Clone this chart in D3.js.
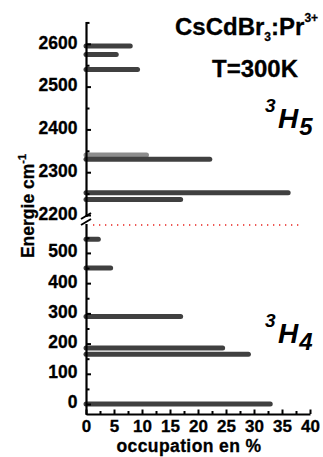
<!DOCTYPE html>
<html><head><meta charset="utf-8">
<script src="https://cdn.jsdelivr.net/npm/d3@7"></script>
<style>
html,body{margin:0;padding:0;background:#fff;}
svg{display:block;font-family:"Liberation Sans",Arial,sans-serif;}
</style></head>
<body>
<svg id="c" width="323" height="457"></svg>
<script>
// ---- data ----
const h5Energy = [2595, 2575, 2540, 2330, 2252, 2236];
const h5Occupation = [7.9, 5.4, 9.2, 22.1, 36.1, 16.9];
const h5LightEnergy = [2340];
const h5LightOccupation = [10.8];
const h4Energy = [545, 450, 290, 185, 165, 0];
const h4Occupation = [2.2, 4.4, 16.9, 24.4, 29.0, 32.9];
const upperTicks = [2200, 2300, 2400, 2500, 2600];
const lowerTicks = [0, 100, 200, 300, 400, 500];
const xTicks = [0, 5, 10, 15, 20, 25, 30, 35, 40];

const svg = d3.select("#c");
const x = d3.scaleLinear().domain([0, 40]).range([86, 310]);
const yU = d3.scaleLinear().domain([2193, 2651]).range([218, 22]);
const yL = d3.scaleLinear().domain([-33, 599]).range([414, 223]);
const axX = 86.5;

// bars
function bars(en, occ, ys, color) {
  svg.append("g").selectAll("line").data(en).join("line")
    .attr("x1", x(0)).attr("x2", (d, i) => x(occ[i]))
    .attr("y1", d => ys(d)).attr("y2", d => ys(d))
    .attr("stroke", color).attr("stroke-width", 5).attr("stroke-linecap", "round");
}
bars(h5LightEnergy, h5LightOccupation, yU, "#8c8c8c");
bars(h5Energy, h5Occupation, yU, "#404040");
bars(h4Energy, h4Occupation, yL, "#404040");

// red dotted separator
svg.append("line").attr("x1", 93).attr("x2", 300).attr("y1", 225).attr("y2", 225)
  .attr("stroke", "#e8231e").attr("stroke-width", 1.3).attr("stroke-dasharray", "1.3 4.7");

function styleAxis(g) {
  g.select(".domain").remove();
  g.selectAll(".tick line").attr("stroke", "#000").attr("stroke-width", 2);
  g.selectAll("text").attr("font-size", 17.5).attr("font-weight", "bold").attr("fill", "#000")
    .attr("font-family", "'Liberation Sans',Arial,sans-serif")
    .attr("stroke", "#000").attr("stroke-width", 0.3);
}
// y axes
const gU = svg.append("g").attr("transform", `translate(${axX},0)`)
  .call(d3.axisLeft(yU).tickValues(upperTicks).tickSizeInner(-4.5).tickSizeOuter(0).tickPadding(9).tickFormat(d3.format("d")));
styleAxis(gU);
gU.selectAll("text").attr("dy", "0.25em");
const gUm = svg.append("g").attr("transform", `translate(${axX},0)`)
  .call(d3.axisLeft(yU).tickValues([2250, 2350, 2450, 2550, 2650]).tickSizeInner(-3).tickSizeOuter(0).tickFormat(""));
styleAxis(gUm);
const gL = svg.append("g").attr("transform", `translate(${axX},0)`)
  .call(d3.axisLeft(yL).tickValues(lowerTicks).tickSizeInner(-4.5).tickSizeOuter(0).tickPadding(9).tickFormat(d3.format("d")));
styleAxis(gL);
gL.selectAll("text").attr("dy", "0.22em");
const gLm = svg.append("g").attr("transform", `translate(${axX},0)`)
  .call(d3.axisLeft(yL).tickValues([50, 150, 250, 350, 450, 550]).tickSizeInner(-3).tickSizeOuter(0).tickFormat(""));
styleAxis(gLm);
// y axis lines
svg.append("line").attr("x1", axX).attr("x2", axX).attr("y1", yU.range()[1]).attr("y2", 217)
  .attr("stroke", "#000").attr("stroke-width", 2.2);
svg.append("line").attr("x1", axX).attr("x2", axX).attr("y1", 224).attr("y2", 415)
  .attr("stroke", "#000").attr("stroke-width", 2.2);
// break marks
[0, 6].forEach(o => {
  svg.append("line").attr("x1", 81).attr("y1", 219 + o).attr("x2", 91).attr("y2", 213 + o)
    .attr("stroke", "#000").attr("stroke-width", 2);
});

// x axis
const gX = svg.append("g").attr("transform", "translate(0,414)")
  .call(d3.axisBottom(x).tickValues(xTicks).tickSizeInner(-4.5).tickSizeOuter(0).tickPadding(6));
gX.select(".domain").attr("stroke", "#000").attr("stroke-width", 2.2);
gX.selectAll(".tick line").attr("stroke", "#000").attr("stroke-width", 2);
gX.selectAll("text").attr("font-size", 17).attr("font-weight", "bold").attr("fill", "#000")
  .attr("font-family", "'Liberation Sans',Arial,sans-serif")
  .attr("stroke", "#000").attr("stroke-width", 0.3);
const gXm = svg.append("g").attr("transform", "translate(0,414)")
  .call(d3.axisBottom(x).tickValues(d3.range(2.5, 40, 5)).tickSizeInner(-3).tickSizeOuter(0).tickFormat(""));
gXm.select(".domain").remove();
gXm.selectAll(".tick line").attr("stroke", "#000").attr("stroke-width", 2);

// axis titles
svg.append("text").attr("x", 189).attr("y", 452).attr("text-anchor", "middle")
  .attr("font-size", 17.5).attr("font-weight", "bold").attr("letter-spacing", 0.4)
  .attr("stroke", "#000").attr("stroke-width", 0.3).text("occupation en %");
const yt = svg.append("text").attr("transform", "translate(34,206) rotate(-90)")
  .attr("text-anchor", "middle").attr("font-size", 17.5).attr("font-weight", "bold")
  .attr("stroke", "#000").attr("stroke-width", 0.3);
yt.append("tspan").text("Energie cm");
yt.append("tspan").attr("font-size", 11).attr("dy", -8).text("-1");

// annotations
const t1 = svg.append("text").attr("x", 175).attr("y", 35).attr("font-size", 24).attr("font-weight", "bold")
  .attr("stroke", "#000").attr("stroke-width", 0.3);
t1.append("tspan").text("CsCdBr");
t1.append("tspan").attr("font-size", 12).attr("dy", 6).text("3");
t1.append("tspan").attr("dy", -6).text(":Pr");
t1.append("tspan").attr("font-size", 12).attr("dy", -13).text("3+");
svg.append("text").attr("x", 212).attr("y", 77).attr("font-size", 24).attr("font-weight", "bold")
  .attr("stroke", "#000").attr("stroke-width", 0.3).text("T=300K");

function term(x0, yb, sub) {
  const t = svg.append("text").attr("x", x0).attr("y", yb - 16).attr("font-size", 19)
    .attr("font-weight", "bold").attr("font-style", "italic");
  t.append("tspan").text("3");
  t.append("tspan").attr("font-size", 28).attr("dy", 16).attr("x", x0 + 13).text("H");
  t.append("tspan").attr("font-size", 24).attr("dy", 7).attr("dx", 1).text(sub);
}
term(265, 128, "5");
term(265, 343, "4");
</script>
</body></html>
